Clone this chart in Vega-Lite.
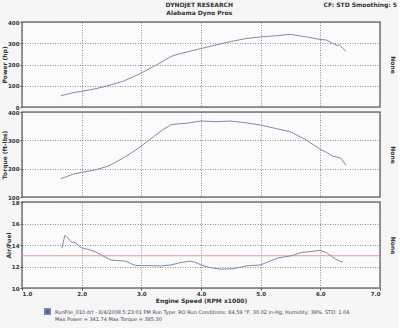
{
  "$schema": "https://vega.github.io/schema/vega-lite/v6.json",
  "padding": {"left": 0, "top": 1, "right": 0, "bottom": 0},
  "background": "#f6f6f6",
  "spacing": -5,
  "title": {"text": "DYNOJET RESEARCH", "subtitle": "Alabama Dyno Pros", "anchor": "middle", "fontSize": 6, "subtitleFontSize": 6, "fontWeight": "bold", "subtitleFontWeight": "bold", "color": "#333", "subtitleColor": "#333", "subtitlePadding": 2, "offset": -15, "font": "DejaVu Sans", "subtitleFont": "DejaVu Sans"},
  "datasets": {
    "power": [
      {"rpm": 1.65, "hp": 53}, {"rpm": 1.75, "hp": 60}, {"rpm": 1.85, "hp": 67}, {"rpm": 2.0, "hp": 74},
      {"rpm": 2.2, "hp": 84}, {"rpm": 2.4, "hp": 97}, {"rpm": 2.5, "hp": 105}, {"rpm": 2.7, "hp": 122},
      {"rpm": 2.85, "hp": 140}, {"rpm": 3.0, "hp": 160}, {"rpm": 3.2, "hp": 190}, {"rpm": 3.35, "hp": 213},
      {"rpm": 3.5, "hp": 238}, {"rpm": 3.6, "hp": 247}, {"rpm": 3.75, "hp": 258}, {"rpm": 4.0, "hp": 275},
      {"rpm": 4.25, "hp": 292}, {"rpm": 4.5, "hp": 308}, {"rpm": 4.75, "hp": 322}, {"rpm": 5.0, "hp": 330},
      {"rpm": 5.25, "hp": 335}, {"rpm": 5.5, "hp": 342}, {"rpm": 5.65, "hp": 335}, {"rpm": 5.8, "hp": 328},
      {"rpm": 5.95, "hp": 320}, {"rpm": 6.1, "hp": 315}, {"rpm": 6.2, "hp": 300}, {"rpm": 6.28, "hp": 290},
      {"rpm": 6.32, "hp": 292}, {"rpm": 6.38, "hp": 275}, {"rpm": 6.43, "hp": 262}
    ],
    "torque": [
      {"rpm": 1.65, "tq": 165}, {"rpm": 1.75, "tq": 172}, {"rpm": 1.85, "tq": 180}, {"rpm": 2.0, "tq": 187},
      {"rpm": 2.2, "tq": 194}, {"rpm": 2.4, "tq": 206}, {"rpm": 2.5, "tq": 215}, {"rpm": 2.7, "tq": 238},
      {"rpm": 2.85, "tq": 258}, {"rpm": 3.0, "tq": 280}, {"rpm": 3.2, "tq": 312}, {"rpm": 3.35, "tq": 336},
      {"rpm": 3.5, "tq": 355}, {"rpm": 3.6, "tq": 358}, {"rpm": 3.75, "tq": 360}, {"rpm": 4.0, "tq": 368},
      {"rpm": 4.25, "tq": 366}, {"rpm": 4.5, "tq": 368}, {"rpm": 4.75, "tq": 362}, {"rpm": 5.0, "tq": 354},
      {"rpm": 5.25, "tq": 342}, {"rpm": 5.5, "tq": 330}, {"rpm": 5.75, "tq": 303}, {"rpm": 6.0, "tq": 268},
      {"rpm": 6.1, "tq": 258}, {"rpm": 6.2, "tq": 245}, {"rpm": 6.28, "tq": 241}, {"rpm": 6.35, "tq": 236},
      {"rpm": 6.43, "tq": 212}
    ],
    "af": [
      {"rpm": 1.67, "af": 13.7, "run": "RunFile_010.drf - 8/4/2008 5:23:01 PM  Run Type: RO  Run Conditions: 84.59 °F, 30.02 in-Hg,  Humidity: 39%, STD: 1.04"},
      {"rpm": 1.70, "af": 14.5, "run": "RunFile_010.drf - 8/4/2008 5:23:01 PM  Run Type: RO  Run Conditions: 84.59 °F, 30.02 in-Hg,  Humidity: 39%, STD: 1.04"},
      {"rpm": 1.72, "af": 14.9, "run": "RunFile_010.drf - 8/4/2008 5:23:01 PM  Run Type: RO  Run Conditions: 84.59 °F, 30.02 in-Hg,  Humidity: 39%, STD: 1.04"},
      {"rpm": 1.76, "af": 14.7, "run": "RunFile_010.drf - 8/4/2008 5:23:01 PM  Run Type: RO  Run Conditions: 84.59 °F, 30.02 in-Hg,  Humidity: 39%, STD: 1.04"},
      {"rpm": 1.82, "af": 14.3, "run": "RunFile_010.drf - 8/4/2008 5:23:01 PM  Run Type: RO  Run Conditions: 84.59 °F, 30.02 in-Hg,  Humidity: 39%, STD: 1.04"},
      {"rpm": 1.90, "af": 14.2, "run": "RunFile_010.drf - 8/4/2008 5:23:01 PM  Run Type: RO  Run Conditions: 84.59 °F, 30.02 in-Hg,  Humidity: 39%, STD: 1.04"},
      {"rpm": 1.99, "af": 13.75, "run": "RunFile_010.drf - 8/4/2008 5:23:01 PM  Run Type: RO  Run Conditions: 84.59 °F, 30.02 in-Hg,  Humidity: 39%, STD: 1.04"},
      {"rpm": 2.10, "af": 13.6, "run": "RunFile_010.drf - 8/4/2008 5:23:01 PM  Run Type: RO  Run Conditions: 84.59 °F, 30.02 in-Hg,  Humidity: 39%, STD: 1.04"},
      {"rpm": 2.24, "af": 13.35, "run": "RunFile_010.drf - 8/4/2008 5:23:01 PM  Run Type: RO  Run Conditions: 84.59 °F, 30.02 in-Hg,  Humidity: 39%, STD: 1.04"},
      {"rpm": 2.35, "af": 13.0, "run": "RunFile_010.drf - 8/4/2008 5:23:01 PM  Run Type: RO  Run Conditions: 84.59 °F, 30.02 in-Hg,  Humidity: 39%, STD: 1.04"},
      {"rpm": 2.49, "af": 12.6, "run": "RunFile_010.drf - 8/4/2008 5:23:01 PM  Run Type: RO  Run Conditions: 84.59 °F, 30.02 in-Hg,  Humidity: 39%, STD: 1.04"},
      {"rpm": 2.60, "af": 12.55, "run": "RunFile_010.drf - 8/4/2008 5:23:01 PM  Run Type: RO  Run Conditions: 84.59 °F, 30.02 in-Hg,  Humidity: 39%, STD: 1.04"},
      {"rpm": 2.74, "af": 12.5, "run": "RunFile_010.drf - 8/4/2008 5:23:01 PM  Run Type: RO  Run Conditions: 84.59 °F, 30.02 in-Hg,  Humidity: 39%, STD: 1.04"},
      {"rpm": 2.85, "af": 12.2, "run": "RunFile_010.drf - 8/4/2008 5:23:01 PM  Run Type: RO  Run Conditions: 84.59 °F, 30.02 in-Hg,  Humidity: 39%, STD: 1.04"},
      {"rpm": 2.91, "af": 12.1, "run": "RunFile_010.drf - 8/4/2008 5:23:01 PM  Run Type: RO  Run Conditions: 84.59 °F, 30.02 in-Hg,  Humidity: 39%, STD: 1.04"},
      {"rpm": 3.10, "af": 12.08, "run": "RunFile_010.drf - 8/4/2008 5:23:01 PM  Run Type: RO  Run Conditions: 84.59 °F, 30.02 in-Hg,  Humidity: 39%, STD: 1.04"},
      {"rpm": 3.33, "af": 12.05, "run": "RunFile_010.drf - 8/4/2008 5:23:01 PM  Run Type: RO  Run Conditions: 84.59 °F, 30.02 in-Hg,  Humidity: 39%, STD: 1.04"},
      {"rpm": 3.50, "af": 12.15, "run": "RunFile_010.drf - 8/4/2008 5:23:01 PM  Run Type: RO  Run Conditions: 84.59 °F, 30.02 in-Hg,  Humidity: 39%, STD: 1.04"},
      {"rpm": 3.65, "af": 12.35, "run": "RunFile_010.drf - 8/4/2008 5:23:01 PM  Run Type: RO  Run Conditions: 84.59 °F, 30.02 in-Hg,  Humidity: 39%, STD: 1.04"},
      {"rpm": 3.80, "af": 12.5, "run": "RunFile_010.drf - 8/4/2008 5:23:01 PM  Run Type: RO  Run Conditions: 84.59 °F, 30.02 in-Hg,  Humidity: 39%, STD: 1.04"},
      {"rpm": 3.90, "af": 12.4, "run": "RunFile_010.drf - 8/4/2008 5:23:01 PM  Run Type: RO  Run Conditions: 84.59 °F, 30.02 in-Hg,  Humidity: 39%, STD: 1.04"},
      {"rpm": 4.00, "af": 12.15, "run": "RunFile_010.drf - 8/4/2008 5:23:01 PM  Run Type: RO  Run Conditions: 84.59 °F, 30.02 in-Hg,  Humidity: 39%, STD: 1.04"},
      {"rpm": 4.15, "af": 11.9, "run": "RunFile_010.drf - 8/4/2008 5:23:01 PM  Run Type: RO  Run Conditions: 84.59 °F, 30.02 in-Hg,  Humidity: 39%, STD: 1.04"},
      {"rpm": 4.33, "af": 11.75, "run": "RunFile_010.drf - 8/4/2008 5:23:01 PM  Run Type: RO  Run Conditions: 84.59 °F, 30.02 in-Hg,  Humidity: 39%, STD: 1.04"},
      {"rpm": 4.55, "af": 11.8, "run": "RunFile_010.drf - 8/4/2008 5:23:01 PM  Run Type: RO  Run Conditions: 84.59 °F, 30.02 in-Hg,  Humidity: 39%, STD: 1.04"},
      {"rpm": 4.75, "af": 12.05, "run": "RunFile_010.drf - 8/4/2008 5:23:01 PM  Run Type: RO  Run Conditions: 84.59 °F, 30.02 in-Hg,  Humidity: 39%, STD: 1.04"},
      {"rpm": 5.00, "af": 12.15, "run": "RunFile_010.drf - 8/4/2008 5:23:01 PM  Run Type: RO  Run Conditions: 84.59 °F, 30.02 in-Hg,  Humidity: 39%, STD: 1.04"},
      {"rpm": 5.15, "af": 12.5, "run": "RunFile_010.drf - 8/4/2008 5:23:01 PM  Run Type: RO  Run Conditions: 84.59 °F, 30.02 in-Hg,  Humidity: 39%, STD: 1.04"},
      {"rpm": 5.30, "af": 12.8, "run": "RunFile_010.drf - 8/4/2008 5:23:01 PM  Run Type: RO  Run Conditions: 84.59 °F, 30.02 in-Hg,  Humidity: 39%, STD: 1.04"},
      {"rpm": 5.51, "af": 13.0, "run": "RunFile_010.drf - 8/4/2008 5:23:01 PM  Run Type: RO  Run Conditions: 84.59 °F, 30.02 in-Hg,  Humidity: 39%, STD: 1.04"},
      {"rpm": 5.68, "af": 13.3, "run": "RunFile_010.drf - 8/4/2008 5:23:01 PM  Run Type: RO  Run Conditions: 84.59 °F, 30.02 in-Hg,  Humidity: 39%, STD: 1.04"},
      {"rpm": 5.85, "af": 13.4, "run": "RunFile_010.drf - 8/4/2008 5:23:01 PM  Run Type: RO  Run Conditions: 84.59 °F, 30.02 in-Hg,  Humidity: 39%, STD: 1.04"},
      {"rpm": 6.00, "af": 13.5, "run": "RunFile_010.drf - 8/4/2008 5:23:01 PM  Run Type: RO  Run Conditions: 84.59 °F, 30.02 in-Hg,  Humidity: 39%, STD: 1.04"},
      {"rpm": 6.10, "af": 13.3, "run": "RunFile_010.drf - 8/4/2008 5:23:01 PM  Run Type: RO  Run Conditions: 84.59 °F, 30.02 in-Hg,  Humidity: 39%, STD: 1.04"},
      {"rpm": 6.20, "af": 12.9, "run": "RunFile_010.drf - 8/4/2008 5:23:01 PM  Run Type: RO  Run Conditions: 84.59 °F, 30.02 in-Hg,  Humidity: 39%, STD: 1.04"},
      {"rpm": 6.30, "af": 12.55, "run": "RunFile_010.drf - 8/4/2008 5:23:01 PM  Run Type: RO  Run Conditions: 84.59 °F, 30.02 in-Hg,  Humidity: 39%, STD: 1.04"},
      {"rpm": 6.38, "af": 12.4, "run": "RunFile_010.drf - 8/4/2008 5:23:01 PM  Run Type: RO  Run Conditions: 84.59 °F, 30.02 in-Hg,  Humidity: 39%, STD: 1.04"}
    ],
    "target": [{"af": 13.0}]
  },
  "vconcat": [
    {
      "width": 358, "height": 85,
      "title": {"text": "CF: STD  Smoothing: 5", "anchor": "end", "fontSize": 6, "fontWeight": "bold", "color": "#333", "dx": 2, "dy": -10, "offset": 2},
      "layer": [
        {
          "data": {"name": "power"},
          "mark": {"type": "line", "color": "#7d8cab", "strokeWidth": 1},
          "encoding": {
            "x": {"field": "rpm", "type": "quantitative", "scale": {"domain": [1, 7]}, "axis": {"values": [1,1.5,2,2.5,3,3.5,4,4.5,5,5.5,6,6.5,7], "labels": false, "ticks": false, "title": null}},
            "y": {"field": "hp", "type": "quantitative", "scale": {"domain": [0, 400]}, "axis": {"values": [0,100,200,300,400], "title": "Power (hp)"}}
          }
        },
        {
          "data": {"name": "power"},
          "mark": {"type": "line", "opacity": 0},
          "encoding": {
            "x": {"field": "rpm", "type": "quantitative"},
            "y": {"field": "hp", "type": "quantitative", "scale": {"domain": [0, 400]}, "axis": {"orient": "right", "title": "None", "labels": false, "ticks": false, "grid": false, "domain": false, "titlePadding": 9}}
          }
        }
      ],
      "resolve": {"scale": {"y": "independent"}}
    },
    {
      "width": 358, "height": 85,
      "layer": [
        {
          "data": {"name": "torque"},
          "mark": {"type": "line", "color": "#7d8cab", "strokeWidth": 1},
          "encoding": {
            "x": {"field": "rpm", "type": "quantitative", "scale": {"domain": [1, 7]}, "axis": {"values": [1,1.5,2,2.5,3,3.5,4,4.5,5,5.5,6,6.5,7], "labels": false, "ticks": false, "title": null}},
            "y": {"field": "tq", "type": "quantitative", "scale": {"domain": [100, 400]}, "axis": {"values": [100,200,300,400], "title": "Torque (ft-lbs)"}}
          }
        },
        {
          "data": {"name": "torque"},
          "mark": {"type": "line", "opacity": 0},
          "encoding": {
            "x": {"field": "rpm", "type": "quantitative"},
            "y": {"field": "tq", "type": "quantitative", "scale": {"domain": [100, 400]}, "axis": {"orient": "right", "title": "None", "labels": false, "ticks": false, "grid": false, "domain": false, "titlePadding": 9}}
          }
        }
      ],
      "resolve": {"scale": {"y": "independent"}}
    },
    {
      "width": 358, "height": 86,
      "layer": [
        {
          "data": {"name": "target"},
          "mark": {"type": "rule", "color": "#e09a9a", "strokeWidth": 1},
          "encoding": {
            "y": {"field": "af", "type": "quantitative", "scale": {"domain": [10, 18]}, "axis": {"values": [10,12,14,16,18], "title": "Air/Fuel"}}
          }
        },
        {
          "data": {"name": "af"},
          "mark": {"type": "line", "strokeWidth": 1},
          "encoding": {
            "x": {"field": "rpm", "type": "quantitative", "scale": {"domain": [1, 7]}, "axis": {"values": [1,1.5,2,2.5,3,3.5,4,4.5,5,5.5,6,6.5,7], "format": ".1f", "title": "Engine Speed (RPM x1000)", "labelPadding": 1, "titlePadding": 1}},
            "y": {"field": "af", "type": "quantitative", "scale": {"domain": [10, 18]}, "axis": null},
            "color": {"field": "run", "type": "nominal", "scale": {"range": ["#7d8cab"]}, "legend": {"orient": "bottom", "title": null, "symbolType": "square", "symbolFillColor": "#4b5e9c", "symbolStrokeColor": "#4b5e9c", "symbolSize": 30, "labelFontSize": 5, "labelFontWeight": "normal", "labelColor": "#445", "labelLimit": 400, "labelExpr": "[datum.label, 'Max Power = 341.74  Max Torque = 385.30']", "padding": 22, "offset": -19}}
          }
        },
        {
          "data": {"name": "af"},
          "mark": {"type": "line", "opacity": 0},
          "encoding": {
            "x": {"field": "rpm", "type": "quantitative"},
            "y": {"field": "af", "type": "quantitative", "scale": {"domain": [10, 18]}, "axis": {"orient": "right", "title": "None", "labels": false, "ticks": false, "grid": false, "domain": false, "titlePadding": 9}}
          }
        }
      ],
      "resolve": {"scale": {"y": "independent"}}
    }
  ],
  "config": {
    "font": "DejaVu Sans",
    "view": {"stroke": "#7a7a7a", "strokeWidth": 1.5, "fill": "#fbfbfb"},
    "axis": {"labelFontSize": 5.5, "labelFontWeight": "bold", "labelColor": "#333", "titleFontSize": 6, "titleFontWeight": "bold", "titleColor": "#333", "gridDash": [1, 1.5], "gridColor": "#666", "gridWidth": 0.8, "gridOpacity": 0.9, "domain": false, "tickSize": 2, "tickColor": "#555", "labelPadding": 1, "titlePadding": 0}
  }
}
